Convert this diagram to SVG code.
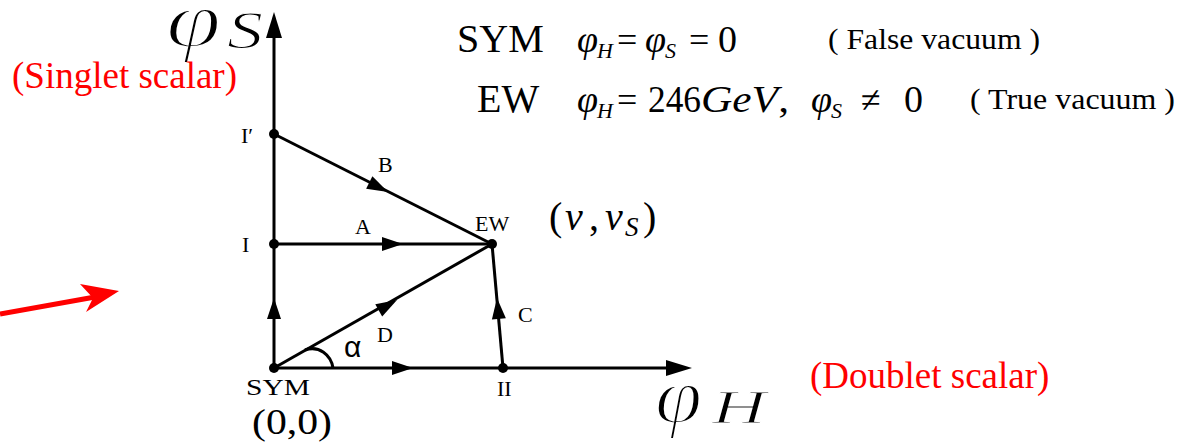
<svg xmlns="http://www.w3.org/2000/svg" width="1189" height="443" viewBox="0 0 1189 443">
<style>
.ln{stroke:#000;stroke-width:3;fill:none}
.dot{fill:#000}
.t{font-family:"Liberation Serif","Times New Roman",serif;fill:#000}
.i{font-style:italic}
.thin{stroke:#fff;stroke-width:2.2}
.thin2{stroke:#fff;stroke-width:1.2}
.red{font-family:"Liberation Serif","Times New Roman",serif;fill:#ff0000;font-size:37px}
</style>
<defs>
<path id="ah" d="M0,0 L-21,-7 L-21,7 Z" fill="#000"/>
<path id="ahb" d="M0,0 L-26,-8 L-26,8 Z" fill="#000"/>
</defs>
<rect width="1189" height="443" fill="#fff"/>

<g id="axes">
<line class="ln" x1="274" y1="368" x2="274" y2="30"/>
<use href="#ahb" transform="translate(274,12) rotate(-90)"/>
<line class="ln" x1="274" y1="368" x2="674" y2="368"/>
<use href="#ahb" transform="translate(692,368)"/>
<text class="t i thin" x="166" y="46" font-size="78" textLength="55" lengthAdjust="spacingAndGlyphs">φ</text>
<text class="t i thin2" x="227" y="48" font-size="52" textLength="36" lengthAdjust="spacingAndGlyphs">S</text>
<text class="t i thin" x="655" y="422" font-size="78" textLength="47" lengthAdjust="spacingAndGlyphs">φ</text>
<text class="t i thin2" x="712" y="423" font-size="47" textLength="54" lengthAdjust="spacingAndGlyphs">H</text>
</g>

<g id="connectors">
<line class="ln" x1="274" y1="134" x2="492" y2="244"/>
<use href="#ah" transform="translate(388,192) rotate(26.8)"/>
<line class="ln" x1="274" y1="244" x2="492" y2="244"/>
<use href="#ah" transform="translate(403,244)"/>
<line class="ln" x1="274" y1="368" x2="492" y2="244"/>
<use href="#ah" transform="translate(397,300) rotate(-29.6)"/>
<line class="ln" x1="503" y1="368" x2="492" y2="244"/>
<use href="#ah" transform="translate(497,298) rotate(-95.1)"/>
<use href="#ah" transform="translate(413,368)"/>
<use href="#ah" transform="translate(274,298) rotate(-90)"/>
<path class="ln" d="M305,350 C319,345 331,355 333,368"/>
<text class="t" x="378" y="172" font-size="22">B</text>
<text class="t" x="355" y="234" font-size="22">A</text>
<text class="t" x="518" y="322" font-size="22">C</text>
<text class="t" x="377" y="342" font-size="22">D</text>
<text x="344" y="357" font-size="30" font-family="Liberation Sans,Arial,sans-serif">α</text>
</g>

<g id="SYM">
<circle class="dot" cx="274" cy="368" r="5"/>
<text class="t" x="246" y="395" font-size="24" textLength="64" lengthAdjust="spacingAndGlyphs">SYM</text>
<text class="t" x="252" y="434" font-size="36" textLength="80" lengthAdjust="spacingAndGlyphs">(0,0)</text>
</g>
<g id="I">
<circle class="dot" cx="274" cy="244" r="5"/>
<text class="t" x="242" y="252" font-size="22">I</text>
</g>
<g id="Iprime">
<circle class="dot" cx="274" cy="134" r="5"/>
<text class="t" x="241" y="143" font-size="22">I′</text>
</g>
<g id="EW">
<circle class="dot" cx="492" cy="244" r="5"/>
<text class="t" x="475" y="231" font-size="22">EW</text>
<text class="t" y="230" font-size="40"><tspan x="549">(</tspan><tspan x="565" font-style="italic">v</tspan><tspan x="589">,</tspan><tspan x="605" font-style="italic">v</tspan><tspan x="625" font-style="italic" font-size="27" dy="6">S</tspan><tspan x="643" dy="-6">)</tspan></text>
</g>
<g id="II">
<circle class="dot" cx="503" cy="368" r="5"/>
<text class="t" x="497" y="396" font-size="22">II</text>
</g>

<g id="legend">
<text class="t" x="457" y="52" font-size="40">SYM</text>
<text class="t i" x="577" y="52" font-size="38">φ</text>
<text class="t i" x="597" y="58" font-size="22">H</text>
<text class="t" x="617" y="52" font-size="36">=</text>
<text class="t i" x="645" y="52" font-size="38">φ</text>
<text class="t i" x="665" y="58" font-size="22">S</text>
<text class="t" x="689" y="52" font-size="36">=</text>
<text class="t" x="718" y="52" font-size="38">0</text>
<text class="t" x="828" y="49" font-size="29" textLength="212" lengthAdjust="spacingAndGlyphs">( False vacuum )</text>

<text class="t" x="477" y="112" font-size="40">EW</text>
<text class="t i" x="577" y="112" font-size="38">φ</text>
<text class="t i" x="597" y="118" font-size="22">H</text>
<text class="t" x="617" y="112" font-size="36">=</text>
<text class="t" x="648" y="112" font-size="38" textLength="53" lengthAdjust="spacingAndGlyphs">246</text>
<text class="t" x="701" y="112" font-size="38" textLength="88" lengthAdjust="spacingAndGlyphs"><tspan font-style="italic">GeV</tspan>,</text>
<text class="t i" x="811" y="112" font-size="38">φ</text>
<text class="t i" x="831" y="118" font-size="22">S</text>
<text class="t" x="861" y="112" font-size="36">≠</text>
<text class="t" x="904" y="112" font-size="38">0</text>
<text class="t" x="970" y="109" font-size="29" textLength="205" lengthAdjust="spacingAndGlyphs">( True vacuum )</text>
</g>

<g id="labels">
<text class="red" x="12" y="88">(Singlet scalar)</text>
<text class="red" x="810" y="388">(Doublet scalar)</text>
<line x1="0" y1="314" x2="95" y2="297" stroke="#ff0000" stroke-width="5"/>
<polygon points="119,291 80,284 93,298 86,312" fill="#ff0000"/>
</g>
</svg>
